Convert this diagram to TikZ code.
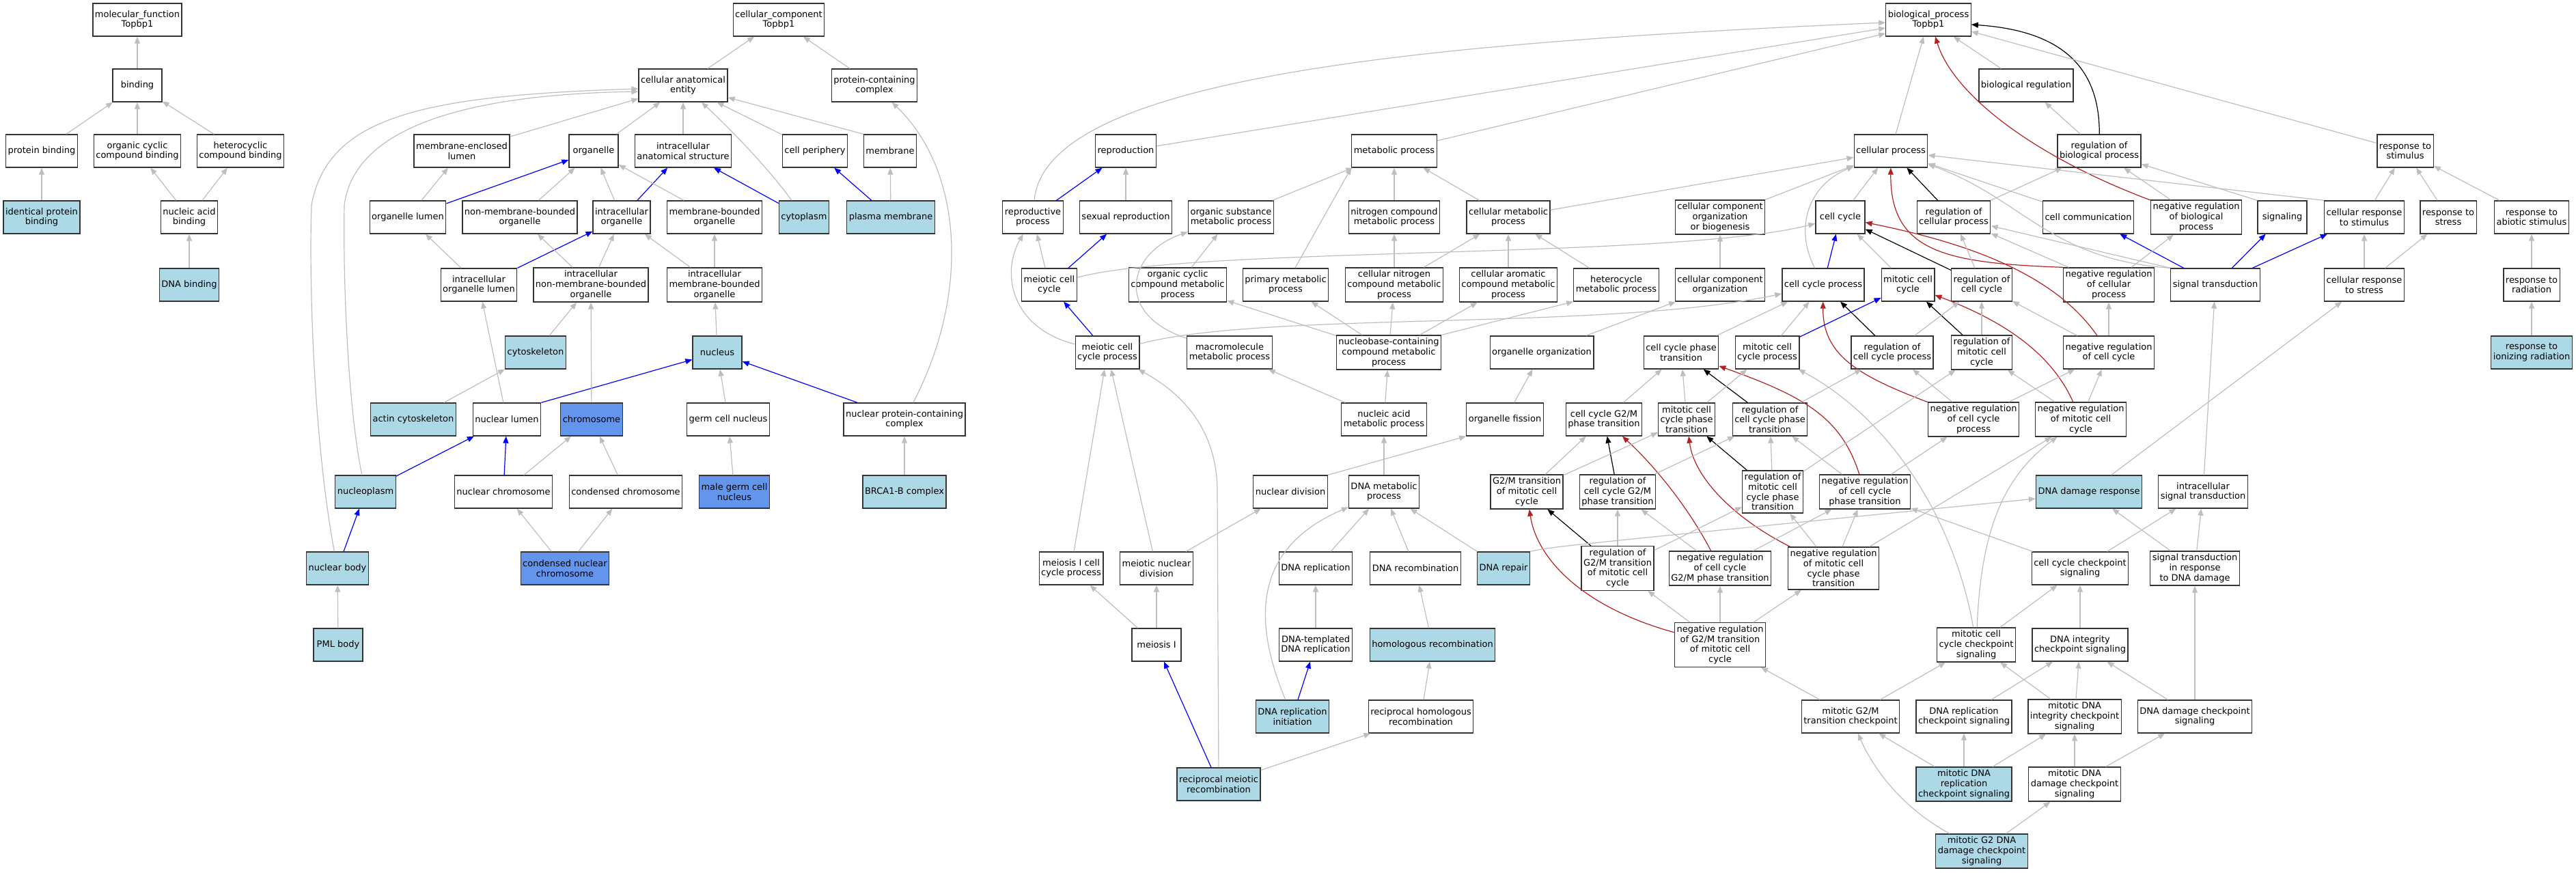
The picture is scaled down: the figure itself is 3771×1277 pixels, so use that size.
\documentclass[tikz,border=0pt]{standalone}
\usepackage{fontspec}
\setmainfont{DejaVu Sans}
\usetikzlibrary{arrows.meta,calc}

\definecolor{hitblue}{RGB}{173,216,230}
\definecolor{keyblue}{RGB}{100,149,237}
\definecolor{edgegray}{RGB}{190,190,190}
\definecolor{negred}{RGB}{178,34,34}

\tikzset{every picture/.style={line width=0.75pt}}
\tikzset{
term/.style={draw=black!80, line width=1.3pt, fill=white, align=center, minimum width=72pt, minimum height=48pt, inner xsep=3pt, inner ysep=4pt, font=\fontsize{13}{14.7}\selectfont},
termhit/.style={term, fill=hitblue},
termkey/.style={term, fill=keyblue},
gline/.style={draw=edgegray, line width=1.2pt, -{Triangle[length=10pt,width=8pt]}},
bline/.style={gline, draw=blue},
kline/.style={gline, draw=black},
rline/.style={gline, draw=negred}
}

\begin{document}
\begin{tikzpicture}[x=1pt,y=1pt,yscale=-1,xscale=1]
\useasboundingbox (0,0) rectangle (3771,1277);

%Nodes: molecular function
\node[term] (mf) at (201,29) {molecular\_function\\Topbp1};
\node[term] (bind) at (201,125) {binding};
\node[term] (pbind) at (61,221) {protein binding};
\node[term] (ocbind) at (201,221) {organic cyclic\\compound binding};
\node[term] (hcbind) at (352,221) {heterocyclic\\compound binding};
\node[termhit] (ipbind) at (61,318) {identical protein\\binding};
\node[term] (nabind) at (277,318) {nucleic acid\\binding};
\node[termhit] (dnabind) at (277,417) {DNA binding};

%Nodes: cellular component
\node[term] (cc) at (1140,29) {cellular\_component\\Topbp1};
\node[term] (cae) at (1000,125) {cellular anatomical\\entity};
\node[term] (pcc) at (1280,125) {protein-containing\\complex};
\node[term] (mel) at (676,221) {membrane-enclosed\\lumen};
\node[term] (org) at (869,221) {organelle};
\node[term] (ias) at (1000,221) {intracellular\\anatomical structure};
\node[term] (cper) at (1193,221) {cell periphery};
\node[term] (memb) at (1303,221) {membrane};
\node[term] (orgl) at (597,318) {organelle lumen};
\node[term] (nmbo) at (761,318) {non-membrane-bounded\\organelle};
\node[term] (iorg) at (910,318) {intracellular\\organelle};
\node[term] (mbo) at (1046,318) {membrane-bounded\\organelle};
\node[termhit] (cyto) at (1177,318) {cytoplasm};
\node[termhit] (pmem) at (1304,318) {plasma membrane};
\node[term] (iol) at (701,417) {intracellular\\organelle lumen};
\node[term] (inmbo) at (865,417) {intracellular\\non-membrane-bounded\\organelle};
\node[term] (imbo) at (1046,417) {intracellular\\membrane-bounded\\organelle};
\node[termhit] (csk) at (784,516) {cytoskeleton};
\node[termhit] (nucl) at (1050,516) {nucleus};
\node[termhit] (acsk) at (605,614) {actin cytoskeleton};
\node[term] (nlum) at (742,614) {nuclear lumen};
\node[termkey] (chrom) at (866,614) {chromosome};
\node[term] (gcn) at (1066,614) {germ cell nucleus};
\node[term] (npcc) at (1324,614) {nuclear protein-containing\\complex};
\node[termhit] (nplasm) at (535,720) {nucleoplasm};
\node[term] (nchrom) at (737,720) {nuclear chromosome};
\node[term] (cchrom) at (916,720) {condensed chromosome};
\node[termkey] (mgcn) at (1075,720) {male germ cell\\nucleus};
\node[termhit] (brca) at (1324,720) {BRCA1-B complex};
\node[termhit] (nbody) at (494,832) {nuclear body};
\node[termkey] (cnchrom) at (827,832) {condensed nuclear\\chromosome};
\node[termhit] (pml) at (495,944) {PML body};

%Nodes: biological process
\node[term] (bp) at (2823,29) {biological\_process\\Topbp1};
\node[term] (breg) at (2966,125) {biological regulation};
\node[term] (repro) at (1648,221) {reproduction};
\node[term] (metab) at (2041,221) {metabolic process};
\node[term] (cproc) at (2768,221) {cellular process};
\node[term] (rbp) at (3073,221) {regulation of\\biological process};
\node[term] (rstim) at (3521,221) {response to\\stimulus};
\node[term] (rpr) at (1512,318) {reproductive\\process};
\node[term] (sexr) at (1648,318) {sexual reproduction};
\node[term] (osmp) at (1802,318) {organic substance\\metabolic process};
\node[term] (nitmp) at (2041,318) {nitrogen compound\\metabolic process};
\node[term] (cmp) at (2208,318) {cellular metabolic\\process};
\node[term] (ccob) at (2518,318) {cellular component\\organization\\or biogenesis};
\node[term] (ccyc) at (2694,318) {cell cycle};
\node[term] (rcp) at (2860,318) {regulation of\\cellular process};
\node[term] (ccom) at (3057,318) {cell communication};
\node[term] (nrbp) at (3215,318) {negative regulation\\of biological\\process};
\node[term] (sig) at (3341,318) {signaling};
\node[term] (crstim) at (3461,318) {cellular response\\to stimulus};
\node[term] (rstress) at (3584,318) {response to\\stress};
\node[term] (rabio) at (3706,318) {response to\\abiotic stimulus};
\node[term] (mcc) at (1536,417) {meiotic cell\\cycle};
\node[term] (ocmp) at (1724,417) {organic cyclic\\compound metabolic\\process};
\node[term] (pmp) at (1882,417) {primary metabolic\\process};
\node[term] (cnmp) at (2041,417) {cellular nitrogen\\compound metabolic\\process};
\node[term] (camp) at (2208,417) {cellular aromatic\\compound metabolic\\process};
\node[term] (hmp) at (2366,417) {heterocycle\\metabolic process};
\node[term] (cco) at (2518,417) {cellular component\\organization};
\node[term] (ccp) at (2669,417) {cell cycle process};
\node[term] (mitcc) at (2793,417) {mitotic cell\\cycle};
\node[term] (rcc) at (2901,417) {regulation of\\cell cycle};
\node[term] (nrcp) at (3087,417) {negative regulation\\of cellular\\process};
\node[term] (sigt) at (3243,417) {signal transduction};
\node[term] (crstress) at (3461,417) {cellular response\\to stress};
\node[term] (rrad) at (3706,417) {response to\\radiation};
\node[term] (meiccp) at (1621,516) {meiotic cell\\cycle process};
\node[term] (mmp) at (1800,516) {macromolecule\\metabolic process};
\node[term] (nbmp) at (2033,516) {nucleobase-containing\\compound metabolic\\process};
\node[term] (oorg) at (2257,516) {organelle organization};
\node[term] (ccpt) at (2461,516) {cell cycle phase\\transition};
\node[term] (mccp) at (2587,516) {mitotic cell\\cycle process};
\node[term] (rccp) at (2770,516) {regulation of\\cell cycle process};
\node[term] (rmcc) at (2901,516) {regulation of\\mitotic cell\\cycle};
\node[term] (nrcc) at (3087,516) {negative regulation\\of cell cycle};
\node[termhit] (rirad) at (3706,516) {response to\\ionizing radiation};
\node[term] (namp) at (2026,614) {nucleic acid\\metabolic process};
\node[term] (ofis) at (2203,614) {organelle fission};
\node[term] (g2mpt) at (2348,614) {cell cycle G2/M\\phase transition};
\node[term] (mccpt) at (2469,614) {mitotic cell\\cycle phase\\transition};
\node[term] (rccpt) at (2591,614) {regulation of\\cell cycle phase\\transition};
\node[term] (nrccp) at (2889,614) {negative regulation\\of cell cycle\\process};
\node[term] (nrmcc) at (3046,614) {negative regulation\\of mitotic cell\\cycle};
\node[term] (ndiv) at (1889,720) {nuclear division};
\node[term] (dmp) at (2026,720) {DNA metabolic\\process};
\node[term] (g2mt) at (2235,720) {G2/M transition\\of mitotic cell\\cycle};
\node[term] (rg2mpt) at (2368,720) {regulation of\\cell cycle G2/M\\phase transition};
\node[term] (rmccpt) at (2595,720) {regulation of\\mitotic cell\\cycle phase\\transition};
\node[term] (nrccpt) at (2730,720) {negative regulation\\of cell cycle\\phase transition};
\node[termhit] (ddr) at (3058,720) {DNA damage response};
\node[term] (ist) at (3225,720) {intracellular\\signal transduction};
\node[term] (m1ccp) at (1568,832) {meiosis I cell\\cycle process};
\node[term] (mnd) at (1693,832) {meiotic nuclear\\division};
\node[term] (drep) at (1926,832) {DNA replication};
\node[term] (drec) at (2072,832) {DNA recombination};
\node[termhit] (drepair) at (2201,832) {DNA repair};
\node[term] (rg2mt) at (2368,832) {regulation of\\G2/M transition\\of mitotic cell\\cycle};
\node[term] (nrg2mpt) at (2518,832) {negative regulation\\of cell cycle\\G2/M phase transition};
\node[term] (nrmccpt) at (2684,832) {negative regulation\\of mitotic cell\\cycle phase\\transition};
\node[term] (cccs) at (3045,832) {cell cycle checkpoint\\signaling};
\node[term] (stdd) at (3213,832) {signal transduction\\in response\\to DNA damage};
\node[term] (mei1) at (1693,944) {meiosis I};
\node[term] (dtdr) at (1926,944) {DNA-templated\\DNA replication};
\node[termhit] (hrec) at (2097,944) {homologous recombination};
\node[term] (nrg2mt) at (2518,944) {negative regulation\\of G2/M transition\\of mitotic cell\\cycle};
\node[term] (mcccs) at (2893,944) {mitotic cell\\cycle checkpoint\\signaling};
\node[term] (dics) at (3045,944) {DNA integrity\\checkpoint signaling};
\node[termhit] (drini) at (1892,1049) {DNA replication\\initiation};
\node[term] (rhrec) at (2080,1049) {reciprocal homologous\\recombination};
\node[term] (mg2mcp) at (2709,1049) {mitotic G2/M\\transition checkpoint};
\node[term] (drcs) at (2875,1049) {DNA replication\\checkpoint signaling};
\node[term] (mdics) at (3037,1049) {mitotic DNA\\integrity checkpoint\\signaling};
\node[term] (ddcs) at (3213,1049) {DNA damage checkpoint\\signaling};
\node[termhit] (rmrec) at (1784,1148) {reciprocal meiotic\\recombination};
\node[termhit] (mdrcs) at (2875,1148) {mitotic DNA\\replication\\checkpoint signaling};
\node[term] (mddcs) at (3037,1148) {mitotic DNA\\damage checkpoint\\signaling};
\node[termhit] (mg2dd) at (2901,1246) {mitotic G2 DNA\\damage checkpoint\\signaling};

%Edges: molecular function
\draw[gline] (bind) -- (mf);
\draw[gline] (pbind) -- (bind);
\draw[gline] (ocbind) -- (bind);
\draw[gline] (hcbind) -- (bind);
\draw[gline] (ipbind) -- (pbind);
\draw[gline] (nabind) -- (ocbind);
\draw[gline] (nabind) -- (hcbind);
\draw[gline] (dnabind) -- (nabind);

%Edges: cellular component
\draw[gline] (cae) -- (cc);
\draw[gline] (pcc) -- (cc);
\draw[gline] (mel) -- (cae);
\draw[gline] (org) -- (cae);
\draw[gline] (ias) -- (cae);
\draw[gline] (cper) -- (cae);
\draw[gline] (memb.north west) -- (cae);
\draw[gline] (cyto) .. controls (1120,240) and (1060,180) .. (cae);
\draw[gline] (nplasm) .. controls (510,600) and (502,420) .. (504,300) .. controls (520,180) and (700,138) .. ($(cae.west)+(0,9)$);
\draw[gline] (nbody) .. controls (460,650) and (452,420) .. (456,300) .. controls (480,170) and (620,140) .. ($(cae.west)+(0,5)$);
\draw[gline] (orgl) -- (mel);
\draw[bline] (orgl) -- (org);
\draw[gline] (nmbo) -- (org);
\draw[gline] (iorg) -- (org);
\draw[bline] (iorg) -- (ias);
\draw[gline] (mbo) -- (org);
\draw[bline] (cyto) -- (ias);
\draw[bline] (pmem) -- (cper);
\draw[gline] (pmem) -- (memb);
\draw[gline] (iol) -- (orgl);
\draw[bline] (iol.north east) -- (iorg);
\draw[gline] (inmbo) -- (nmbo);
\draw[gline] (inmbo) -- (iorg);
\draw[gline] (imbo) -- (iorg);
\draw[gline] (imbo) -- (mbo);
\draw[gline] (csk) -- (inmbo);
\draw[gline] (nucl) -- (imbo);
\draw[gline] (acsk) -- (csk);
\draw[gline] (nlum) -- (iol);
\draw[bline] (nlum.north east) -- (nucl);
\draw[gline] (chrom) -- (inmbo);
\draw[gline] (gcn) -- (nucl);
\draw[bline] (npcc) -- (nucl);
\draw[gline] (npcc) .. controls (1420,430) and (1410,250) .. (pcc);
\draw[bline] (nplasm) -- (nlum);
\draw[bline] (nchrom) -- (nlum);
\draw[gline] (nchrom) -- (chrom);
\draw[gline] (cchrom) -- (chrom);
\draw[gline] (mgcn) -- (gcn);
\draw[gline] (brca) -- (npcc);
\draw[bline] (nbody) -- (nplasm);
\draw[gline] (cnchrom) -- (nchrom);
\draw[gline] (cnchrom) -- (cchrom);
\draw[gline] (pml) -- (nbody);

%Edges: biological process, upper part
\draw[gline] (rpr) .. controls (1530,110) and (2100,62) .. ($(bp.west)+(0,4)$);
\draw[gline] (repro) -- ($(bp.west)+(0,12)$);
\draw[gline] (metab) -- ($(bp.west)+(0,20)$);
\draw[gline] (cproc) -- (bp);
\draw[gline] (breg) -- (bp);
\draw[kline] (rbp) .. controls (3074,100) and (3020,45) .. ($(bp.east)+(0,7)$);
\draw[rline] (nrbp) .. controls (2980,230) and (2860,140) .. ($(bp.south)+(10,0)$);
\draw[gline] (rstim) -- (bp);
\draw[bline] (rpr) -- (repro);
\draw[gline] (sexr) -- (repro);
\draw[gline] (osmp) -- (metab);
\draw[gline] (pmp) -- (metab.south west);
\draw[gline] (nitmp) -- (metab);
\draw[gline] (cmp) -- (metab);
\draw[gline] (cmp) -- (cproc);
\draw[gline] (ccob) -- (cproc);
\draw[gline] (ccyc) -- (cproc);
\draw[gline] (ccp) .. controls (2625,330) and (2650,270) .. (cproc);
\draw[kline] (rcp) -- (cproc);
\draw[rline] (nrcp.north west) .. controls (2850,385) and (2767,370) .. (cproc);
\draw[gline] (ccom) -- (cproc);
\draw[gline] (sigt.north west) .. controls (3000,380) and (2960,290) .. (cproc);
\draw[gline] (crstim.north west) -- (cproc);
\draw[gline] (rbp) -- (breg);
\draw[gline] (rcp) -- (rbp);
\draw[gline] (nrbp) -- (rbp);
\draw[gline] (sig.north west) -- (rbp);
\draw[gline] (crstim) -- (rstim);
\draw[gline] (rstress) -- (rstim);
\draw[gline] (rabio) -- (rstim);
\draw[gline] (mcc) -- (rpr);
\draw[gline] (meiccp) .. controls (1480,480) and (1465,400) .. (rpr);
\draw[bline] (mcc) -- (sexr);
\draw[gline] (ocmp) -- (osmp);
\draw[gline] (mmp) .. controls (1630,460) and (1650,370) .. (osmp);
\draw[gline] (cnmp) -- (nitmp);
\draw[gline] (cnmp) -- (cmp);
\draw[gline] (camp) -- (cmp);
\draw[gline] (hmp) -- (cmp);
\draw[gline] (cco) -- (ccob);
\draw[gline] (mcc) .. controls (1750,360) and (2450,380) .. (ccyc);
\draw[bline] (ccp) -- (ccyc);
\draw[gline] (mitcc) -- (ccyc);
\draw[kline] (rcc) -- (ccyc);
\draw[rline] (nrcc) .. controls (3000,390) and (2850,350) .. (ccyc);
\draw[gline] (rcc) -- (rcp);
\draw[gline] (nrcp) -- (rcp);
\draw[gline] (sigt.north west) -- (rcp);
\draw[bline] (sigt) -- (ccom);
\draw[gline] (nrcp) -- (nrbp);
\draw[bline] (sigt) -- (sig);
\draw[bline] (sigt) -- (crstim);
\draw[gline] (crstress) -- (crstim);
\draw[gline] (crstress) -- (rstress);
\draw[gline] (rrad) -- (rabio);
\draw[gline] (rirad) -- (rrad);

%Edges: biological process, middle part
\draw[bline] (meiccp) -- (mcc);
\draw[gline] (nbmp) -- (ocmp);
\draw[gline] (nbmp) -- (pmp);
\draw[gline] (nbmp) -- (cnmp);
\draw[gline] (nbmp) -- (camp);
\draw[gline] (nbmp.north east) -- (hmp.south west);
\draw[gline] (oorg) -- (cco);
\draw[gline] (meiccp) .. controls (1850,455) and (2350,485) .. (ccp);
\draw[gline] (ccpt) -- (ccp);
\draw[gline] (mccp) -- (ccp);
\draw[kline] (rccp) -- (ccp);
\draw[rline] (nrccp) .. controls (2720,550) and (2668,520) .. (ccp);
\draw[bline] (mccp) -- (mitcc);
\draw[kline] (rmcc) -- (mitcc);
\draw[rline] (nrmcc) .. controls (3000,510) and (2920,465) .. (mitcc);
\draw[gline] (rccp) -- (rcc);
\draw[gline] (rmcc) -- (rcc);
\draw[gline] (nrcc) -- (rcc);
\draw[gline] (nrcc) -- (nrcp);
\draw[gline] (ist) -- (sigt);
\draw[gline] (ddr) -- (crstress);
\draw[gline] (m1ccp) -- (meiccp);
\draw[gline] (mnd) -- (meiccp);
\draw[gline] (rmrec) -- (1782,720) .. controls (1782,620) and (1720,570) .. (meiccp);
\draw[gline] (namp) -- (mmp);
\draw[gline] (namp) -- (nbmp);
\draw[gline] (ofis) -- (oorg);
\draw[gline] (g2mpt) -- (ccpt);
\draw[gline] (mccpt) -- (ccpt);
\draw[kline] (rccpt) -- (ccpt);
\draw[rline] (nrccpt) .. controls (2695,610) and (2640,580) .. (ccpt);
\draw[gline] (mccpt) -- (mccp);
\draw[gline] (mcccs) .. controls (2865,780) and (2780,620) .. (mccp);
\draw[gline] (rccpt) -- (rccp);
\draw[gline] (nrccp) -- (rccp);
\draw[gline] (rmccpt) -- (rmcc);
\draw[gline] (nrmcc) -- (rmcc);
\draw[gline] (nrccp) -- (nrcc);
\draw[gline] (nrmcc) -- (nrcc);

%Edges: biological process, lower part
\draw[gline] (dmp) -- (namp);
\draw[gline] (ndiv.north east) -- (ofis.south west);
\draw[gline] (g2mt) -- (g2mpt);
\draw[kline] (rg2mpt) -- (g2mpt);
\draw[rline] (nrg2mpt) .. controls (2470,740) and (2420,680) .. (g2mpt);
\draw[gline] (g2mt) -- (mccpt);
\draw[kline] (rmccpt) -- (mccpt);
\draw[rline] (nrmccpt) .. controls (2540,760) and (2480,700) .. (mccpt);
\draw[gline] (rg2mpt) -- (rccpt);
\draw[gline] (rmccpt) -- (rccpt);
\draw[gline] (nrccpt) -- (rccpt);
\draw[gline] (nrccpt) -- (nrccp);
\draw[gline] (nrmccpt) -- (nrmcc);
\draw[gline] (mcccs) .. controls (2900,780) and (2930,700) .. (nrmcc);
\draw[gline] (mnd) -- (ndiv);
\draw[gline] (drini) .. controls (1830,900) and (1840,800) .. (dmp);
\draw[gline] (drep) -- (dmp);
\draw[gline] (drec) -- (dmp);
\draw[gline] (drepair) -- (dmp);
\draw[kline] (rg2mt) -- (g2mt);
\draw[rline] (nrg2mt) .. controls (2320,890) and (2250,820) .. (g2mt);
\draw[gline] (rg2mt) -- (rg2mpt);
\draw[gline] (nrg2mpt) -- (rg2mpt);
\draw[gline] (rg2mt) -- (rmccpt);
\draw[gline] (nrmccpt) -- (rmccpt);
\draw[gline] (nrg2mpt) -- (nrccpt);
\draw[gline] (nrmccpt) -- (nrccpt);
\draw[gline] (cccs) -- (nrccpt);
\draw[gline] (drepair.north east) .. controls (2270,800) and (2300,798) .. ($(ddr.west)+(0,10)$);
\draw[gline] (stdd) -- (ddr);
\draw[gline] (cccs) -- (ist);
\draw[gline] (stdd) -- (ist);
\draw[gline] (mei1) -- (m1ccp);
\draw[gline] (mei1) -- (mnd);
\draw[gline] (dtdr) -- (drep);
\draw[gline] (hrec) -- (drec);
\draw[gline] (nrg2mt) -- (rg2mt);
\draw[gline] (nrg2mt) -- (nrg2mpt);
\draw[gline] (nrg2mt) -- (nrmccpt);
\draw[gline] (mcccs) -- (cccs);
\draw[gline] (dics) -- (cccs);
\draw[gline] (ddcs) -- (stdd);
\draw[bline] (rmrec) -- (mei1);
\draw[bline] (drini) -- (dtdr);
\draw[gline] (rhrec) -- (hrec);
\draw[gline] (mg2mcp) -- (nrg2mt);
\draw[gline] (mg2mcp) -- (mcccs);
\draw[gline] (mdics) -- (mcccs);
\draw[gline] (drcs) -- (dics);
\draw[gline] (mdics) -- (dics);
\draw[gline] (ddcs) -- (dics);
\draw[gline] (rmrec) -- (rhrec);
\draw[gline] (mdrcs) -- (mg2mcp);
\draw[gline] (mg2dd) .. controls (2780,1180) and (2740,1120) .. (mg2mcp);
\draw[gline] (mdrcs) -- (drcs);
\draw[gline] (mdrcs) -- (mdics);
\draw[gline] (mddcs) -- (mdics);
\draw[gline] (mddcs) -- (ddcs);
\draw[gline] (mg2dd) -- (mddcs);

\end{tikzpicture}
\end{document}
